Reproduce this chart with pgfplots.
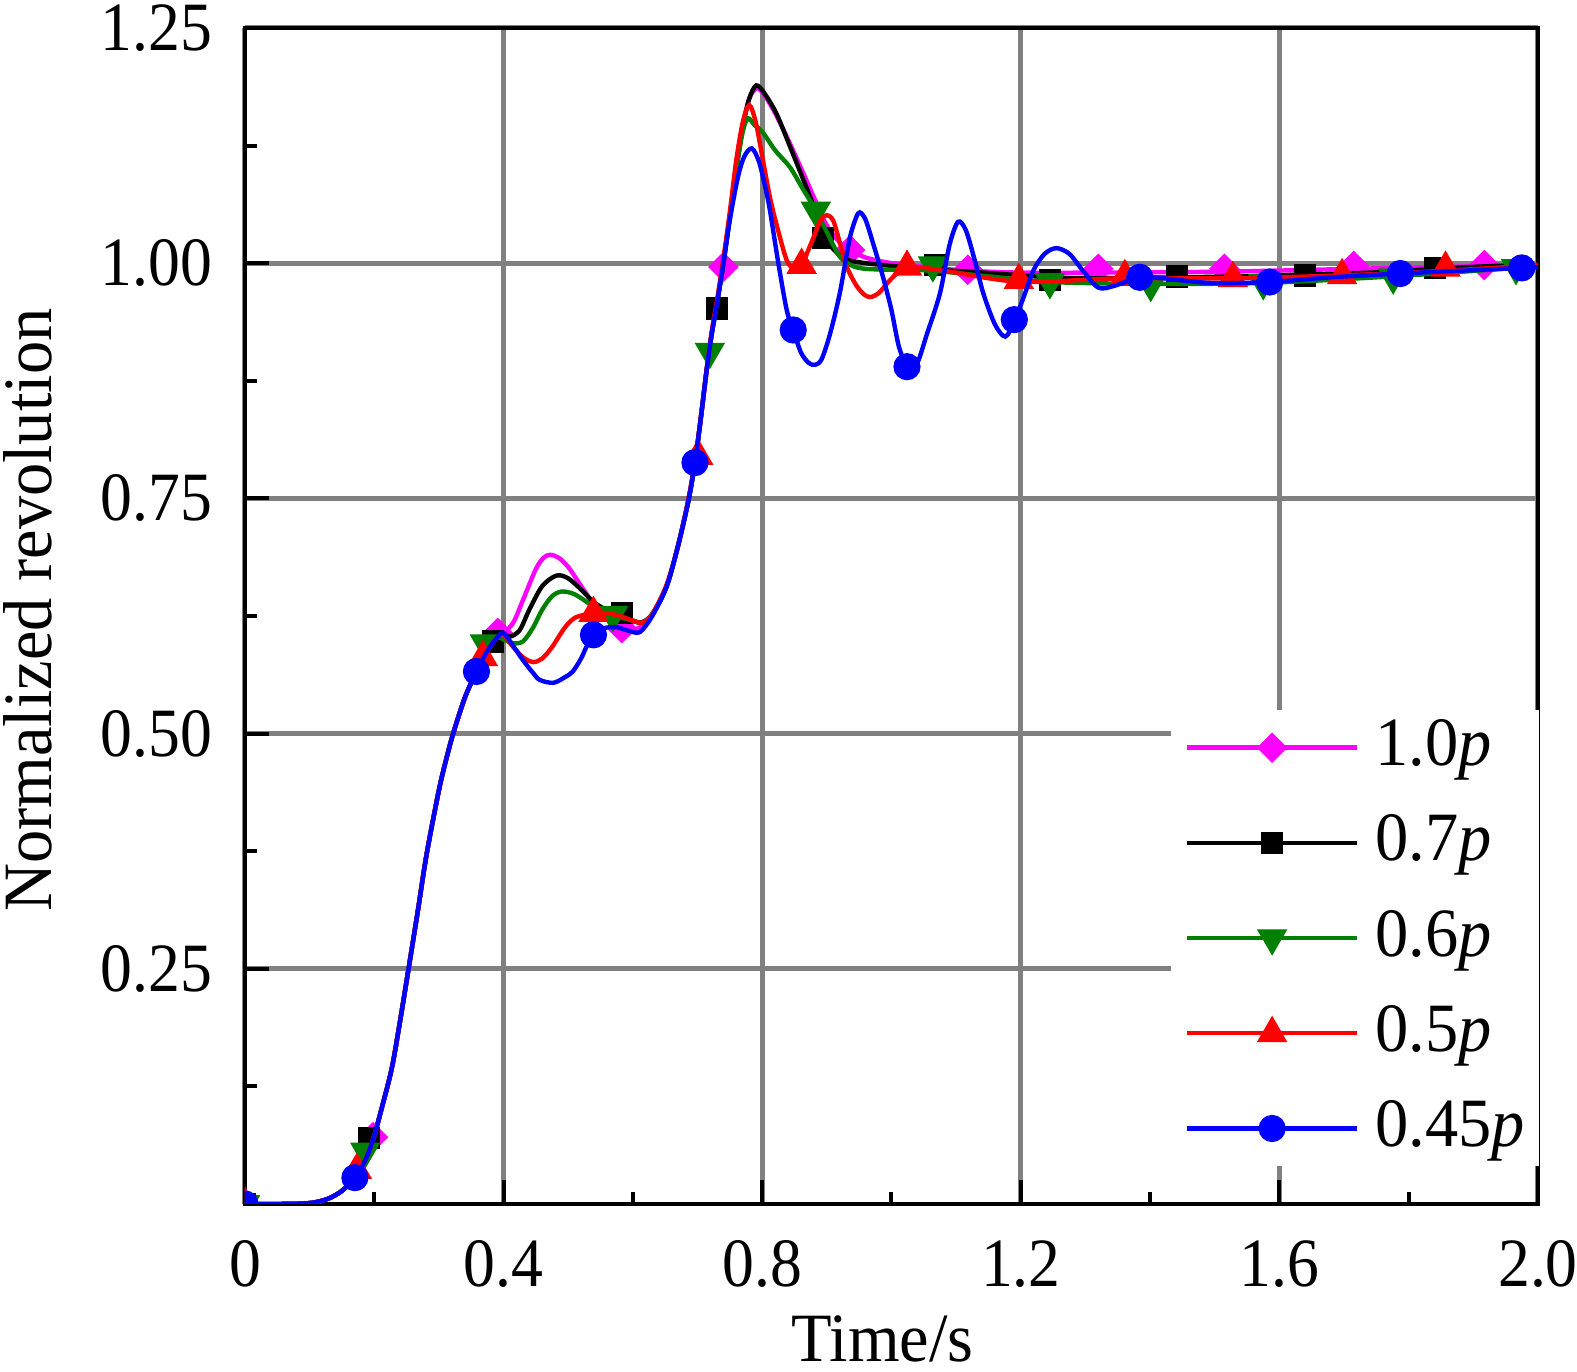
\documentclass[border=0pt]{standalone}
\usepackage{fontspec}
\setmainfont[FakeStretch=0.96]{Liberation Serif}
\newfontfamily\tickfont[FakeStretch=0.92]{Liberation Serif}
\usepackage{pgfplots}
\pgfplotsset{compat=1.18}
\definecolor{dgreen}{RGB}{0,128,0}
\definecolor{mag}{RGB}{255,0,255}
\definecolor{rred}{RGB}{255,0,0}
\definecolor{bblue}{RGB}{0,0,255}
\definecolor{gridgray}{RGB}{128,128,128}

\begin{document}
\fontsize{17.3pt}{20pt}\selectfont
\begin{tikzpicture}
\useasboundingbox (-61.25pt,-42pt) rectangle (333pt,301pt);
\begin{axis}[
  scale only axis, width=323.25pt, height=294pt,
  xmin=0, xmax=2, ymin=0, ymax=1.25,
  axis line style={line width=1pt, black},
  xtick={0,0.4,0.8,1.2,1.6,2.0}, xticklabels={0,0.4,0.8,1.2,1.6,2.0},
  minor xtick={0.2,0.6,1.0,1.4,1.8},
  ytick={0.25,0.5,0.75,1.0,1.25}, yticklabels={0.25,0.50,0.75,1.00,1.25},
  minor ytick={0.125,0.375,0.625,0.875,1.125},
  tick align=inside, tick pos=left,
  major tick length=6pt, minor tick length=3pt,
  tick style={black, line width=1pt},
  grid=major, major grid style={gridgray, line width=1.25pt},
  xticklabel style={font=\tickfont, anchor=base, inner sep=0pt, yshift=-20.75pt},
  yticklabel style={font=\tickfont, anchor=east, inner sep=0pt, xshift=-8pt},
  xlabel={Time/s}, ylabel={Normalized revolution},
  xlabel style={at={(axis description cs:0.493,-0.134)}, anchor=base, inner sep=0pt},
  ylabel style={at={(axis description cs:-0.150,0.505)}, anchor=base, inner sep=0pt},
  legend cell align=left,
  legend style={draw=none, fill=white, at={(0.7155,0.421)}, anchor=north west,
    inner xsep=3.5pt, inner ysep=1pt, row sep=6.8pt,
    nodes={inner sep=0pt, text height=13pt, text depth=4pt},
    /tikz/every odd column/.append style={column sep=4pt}},
  legend image code/.code={\draw[mark repeat=2,mark phase=2,#1] plot coordinates {(0pt,0pt) (21.25pt,0pt) (42.5pt,0pt)};},
  clip marker paths=true,
]
% ---------- 1.0p (magenta) ----------
\addplot[mag, line width=1.1pt, smooth, forget plot] table[row sep=\\] {
x y\\
0 0\\ 0.05 0\\ 0.09 0.0005\\ 0.11 0.002\\ 0.13 0.006\\ 0.15 0.014\\ 0.17 0.028\\ 0.185 0.045\\ 0.198 0.068\\ 0.21 0.098\\ 0.227 0.144\\ 0.24 0.195\\ 0.253 0.25\\ 0.267 0.31\\ 0.281 0.372\\ 0.30 0.44\\ 0.311 0.472\\ 0.322 0.50\\ 0.34 0.538\\ 0.358 0.566\\ 0.375 0.588\\ 0.39 0.602\\
0.40 0.607\\ 0.415 0.618\\ 0.43 0.642\\ 0.45 0.675\\ 0.462 0.687\\ 0.472 0.690\\ 0.485 0.687\\ 0.50 0.677\\ 0.515 0.662\\ 0.534 0.643\\ 0.56 0.622\\ 0.583 0.610\\ 0.60 0.610\\ 0.615 0.615\\
0.63 0.627\\ 0.652 0.656\\ 0.67 0.70\\ 0.686 0.748\\ 0.696 0.788\\ 0.705 0.835\\ 0.714 0.886\\ 0.722 0.925\\ 0.730 0.957\\ 0.740 1.0\\ 0.750 1.05\\
0.760 1.10\\ 0.770 1.145\\ 0.780 1.175\\ 0.792 1.186\\ 0.805 1.177\\ 0.822 1.157\\ 0.843 1.127\\ 0.864 1.095\\ 0.88 1.07\\ 0.90 1.04\\ 0.92 1.022\\ 0.936 1.014\\ 0.96 1.006\\ 1.0 1.0\\ 1.05 0.996\\ 1.118 0.992\\ 1.2 0.99\\ 1.32 0.99\\ 1.515 0.991\\ 1.715 0.994\\ 1.917 0.997\\ 2.0 0.998\\
};
\addplot[only marks, mark=square*, mark size=2.5pt, mark options={rotate=45, fill=mag, draw=mag, line width=0.4pt}, forget plot] table[row sep=\\] {
x y\\
0 0\\ 0.198 0.071\\ 0.391 0.607\\ 0.583 0.612\\ 0.740 0.996\\ 0.936 1.014\\ 1.118 0.993\\ 1.320 0.994\\ 1.515 0.994\\ 1.715 0.997\\ 1.917 0.998\\
};
% ---------- 0.7p (black) ----------
\addplot[black, line width=1.1pt, smooth, forget plot] table[row sep=\\] {
x y\\
0 0\\ 0.05 0\\ 0.09 0.0005\\ 0.11 0.002\\ 0.13 0.006\\ 0.15 0.014\\ 0.17 0.028\\ 0.185 0.045\\ 0.198 0.068\\ 0.21 0.098\\ 0.227 0.144\\ 0.24 0.195\\ 0.253 0.25\\ 0.267 0.31\\ 0.281 0.372\\ 0.30 0.44\\ 0.311 0.472\\ 0.322 0.50\\ 0.34 0.538\\ 0.358 0.566\\ 0.375 0.588\\ 0.39 0.602\\
0.40 0.605\\ 0.41 0.603\\ 0.425 0.610\\ 0.44 0.632\\ 0.46 0.657\\ 0.482 0.668\\ 0.50 0.665\\ 0.52 0.653\\ 0.539 0.640\\ 0.56 0.631\\ 0.585 0.624\\ 0.611 0.618\\
0.63 0.627\\ 0.652 0.656\\ 0.67 0.70\\ 0.686 0.748\\ 0.696 0.788\\ 0.705 0.835\\ 0.714 0.886\\ 0.722 0.925\\ 0.730 0.957\\ 0.740 1.0\\ 0.750 1.05\\
0.760 1.10\\ 0.770 1.145\\ 0.780 1.175\\ 0.791 1.189\\ 0.804 1.18\\ 0.822 1.159\\ 0.843 1.124\\ 0.864 1.088\\ 0.88 1.06\\ 0.895 1.031\\ 0.91 1.015\\ 0.93 1.004\\ 0.96 1.0\\ 0.987 0.998\\ 1.05 0.994\\ 1.142 0.99\\ 1.245 0.985\\ 1.32 0.984\\ 1.442 0.985\\ 1.54 0.986\\ 1.640 0.988\\ 1.74 0.99\\ 1.841 0.994\\ 1.93 0.997\\ 2.0 0.998\\
};
\addplot[only marks, mark=square*, mark size=2.6pt, mark options={fill=black, draw=black, line width=0.4pt}, forget plot] table[row sep=\\] {
x y\\
0 0\\ 0.192 0.070\\ 0.384 0.598\\ 0.583 0.628\\ 0.730 0.952\\ 0.894 1.027\\ 1.067 0.998\\ 1.245 0.982\\ 1.442 0.986\\ 1.640 0.987\\ 1.841 0.995\\
};
% ---------- 0.6p (green) ----------
\addplot[dgreen, line width=1.1pt, smooth, forget plot] table[row sep=\\] {
x y\\
0 0\\ 0.05 0\\ 0.09 0.0005\\ 0.11 0.002\\ 0.13 0.006\\ 0.15 0.014\\ 0.17 0.028\\ 0.185 0.045\\ 0.198 0.068\\ 0.21 0.098\\ 0.227 0.144\\ 0.24 0.195\\ 0.253 0.25\\ 0.267 0.31\\ 0.281 0.372\\ 0.30 0.44\\ 0.311 0.472\\ 0.322 0.50\\ 0.34 0.538\\ 0.358 0.566\\ 0.375 0.588\\ 0.39 0.602\\
0.40 0.600\\ 0.415 0.596\\ 0.43 0.598\\ 0.445 0.612\\ 0.46 0.632\\ 0.475 0.646\\ 0.49 0.651\\ 0.51 0.648\\ 0.54 0.635\\ 0.569 0.626\\ 0.60 0.620\\ 0.615 0.618\\
0.63 0.627\\ 0.652 0.656\\ 0.67 0.70\\ 0.686 0.748\\ 0.696 0.788\\ 0.705 0.835\\ 0.714 0.886\\ 0.722 0.925\\ 0.730 0.957\\ 0.740 1.0\\ 0.750 1.05\\
0.760 1.10\\ 0.770 1.14\\ 0.778 1.154\\ 0.788 1.147\\ 0.801 1.139\\ 0.82 1.12\\ 0.843 1.102\\ 0.862 1.08\\ 0.883 1.056\\ 0.90 1.033\\ 0.92 1.007\\ 0.94 0.997\\ 0.96 0.994\\ 1.0 0.993\\ 1.064 0.992\\ 1.15 0.986\\ 1.245 0.980\\ 1.401 0.978\\ 1.575 0.979\\ 1.776 0.986\\ 1.966 0.995\\ 2.0 0.997\\
};
\addplot[only marks, mark=triangle*, mark size=4pt, mark options={rotate=180, fill=dgreen, draw=dgreen, line width=0.4pt}, forget plot] table[row sep=\\] {
x y\\
0 0\\ 0.186 0.056\\ 0.371 0.596\\ 0.569 0.626\\ 0.719 0.906\\ 0.883 1.056\\ 1.064 0.998\\ 1.245 0.98\\ 1.401 0.977\\ 1.575 0.979\\ 1.776 0.985\\ 1.966 0.995\\
};
% ---------- 0.5p (red) ----------
\addplot[rred, line width=1.1pt, smooth, forget plot] table[row sep=\\] {
x y\\
0 0\\ 0.05 0\\ 0.09 0.0005\\ 0.11 0.002\\ 0.13 0.006\\ 0.15 0.014\\ 0.17 0.028\\ 0.185 0.045\\ 0.198 0.068\\ 0.21 0.098\\ 0.227 0.144\\ 0.24 0.195\\ 0.253 0.25\\ 0.267 0.31\\ 0.281 0.372\\ 0.30 0.44\\ 0.311 0.472\\ 0.322 0.50\\ 0.34 0.538\\ 0.358 0.566\\ 0.375 0.588\\ 0.39 0.602\\
0.40 0.604\\ 0.415 0.592\\ 0.43 0.581\\ 0.446 0.576\\ 0.46 0.580\\ 0.475 0.592\\ 0.49 0.608\\ 0.50 0.617\\ 0.513 0.624\\ 0.539 0.628\\ 0.56 0.628\\ 0.58 0.625\\ 0.60 0.620\\ 0.615 0.618\\
0.63 0.627\\ 0.652 0.658\\ 0.67 0.70\\ 0.686 0.75\\ 0.696 0.79\\ 0.705 0.835\\ 0.714 0.886\\ 0.722 0.928\\ 0.730 0.96\\ 0.740 1.005\\ 0.750 1.055\\
0.760 1.11\\ 0.770 1.15\\ 0.780 1.168\\ 0.790 1.15\\ 0.801 1.11\\ 0.812 1.07\\ 0.823 1.039\\ 0.838 1.003\\ 0.85 0.994\\ 0.861 0.998\\ 0.875 1.02\\ 0.89 1.045\\ 0.90 1.051\\ 0.91 1.045\\ 0.92 1.022\\ 0.931 0.996\\ 0.945 0.977\\ 0.957 0.967\\ 0.967 0.964\\ 0.98 0.968\\ 0.995 0.98\\ 1.01 0.99\\ 1.024 0.995\\ 1.05 0.995\\ 1.1 0.99\\ 1.15 0.984\\ 1.2 0.980\\ 1.26 0.981\\ 1.361 0.984\\ 1.528 0.984\\ 1.697 0.987\\ 1.857 0.992\\ 2.0 0.998\\
};
\addplot[only marks, mark=triangle*, mark size=4pt, mark options={fill=rred, draw=rred, line width=0.4pt}, forget plot] table[row sep=\\] {
x y\\
0 0\\ 0.173 0.036\\ 0.368 0.581\\ 0.539 0.628\\ 0.701 0.795\\ 0.861 0.998\\ 1.024 0.996\\ 1.197 0.982\\ 1.361 0.986\\ 1.528 0.984\\ 1.697 0.987\\ 1.857 0.995\\
};
% ---------- 0.45p (blue) ----------
\addplot[bblue, line width=1.1pt, smooth, forget plot] table[row sep=\\] {
x y\\
0 0\\ 0.05 0\\ 0.09 0.0005\\ 0.11 0.002\\ 0.13 0.006\\ 0.15 0.014\\ 0.17 0.028\\ 0.185 0.045\\ 0.198 0.068\\ 0.21 0.098\\ 0.227 0.144\\ 0.24 0.195\\ 0.253 0.25\\ 0.267 0.31\\ 0.281 0.372\\ 0.30 0.44\\ 0.311 0.472\\ 0.322 0.50\\ 0.34 0.538\\ 0.358 0.566\\ 0.375 0.588\\ 0.39 0.602\\
0.40 0.607\\ 0.415 0.593\\ 0.43 0.578\\ 0.445 0.565\\ 0.456 0.557\\ 0.477 0.554\\ 0.495 0.560\\ 0.507 0.566\\ 0.52 0.58\\ 0.528 0.592\\ 0.539 0.605\\ 0.555 0.612\\ 0.575 0.613\\ 0.595 0.609\\ 0.611 0.608\\
0.63 0.625\\ 0.652 0.656\\ 0.67 0.70\\ 0.686 0.748\\ 0.696 0.788\\ 0.705 0.835\\ 0.714 0.886\\ 0.722 0.925\\ 0.730 0.957\\ 0.740 1.0\\ 0.750 1.046\\
0.762 1.09\\ 0.772 1.113\\ 0.784 1.122\\ 0.795 1.108\\ 0.805 1.08\\ 0.812 1.056\\ 0.825 1.0\\ 0.838 0.950\\ 0.848 0.929\\ 0.86 0.905\\ 0.872 0.894\\ 0.882 0.892\\ 0.892 0.898\\ 0.905 0.925\\ 0.92 0.968\\ 0.935 1.025\\ 0.945 1.048\\ 0.951 1.054\\ 0.96 1.046\\ 0.972 1.02\\ 0.987 0.985\\ 1.0 0.95\\ 1.012 0.91\\ 1.027 0.887\\ 1.04 0.894\\ 1.055 0.925\\ 1.075 0.968\\ 1.09 1.02\\ 1.103 1.044\\ 1.115 1.035\\ 1.128 1.005\\ 1.142 0.968\\ 1.16 0.935\\ 1.176 0.922\\ 1.19 0.938\\ 1.205 0.965\\ 1.22 0.993\\ 1.237 1.01\\ 1.255 1.016\\ 1.275 1.01\\ 1.295 0.993\\ 1.32 0.974\\ 1.345 0.976\\ 1.384 0.985\\ 1.42 0.984\\ 1.493 0.979\\ 1.585 0.980\\ 1.68 0.985\\ 1.787 0.989\\ 1.88 0.992\\ 1.975 0.995\\ 2.0 0.996\\
};
\addplot[only marks, mark=*, mark size=3.2pt, mark options={fill=bblue, draw=bblue, line width=0.4pt}, forget plot] table[row sep=\\] {
x y\\
0 0\\ 0.17 0.028\\ 0.358 0.566\\ 0.539 0.605\\ 0.696 0.788\\ 0.848 0.929\\ 1.024 0.890\\ 1.19 0.940\\ 1.384 0.985\\ 1.585 0.980\\ 1.787 0.989\\ 1.975 0.995\\
};
% ---------- legend ----------
\addlegendimage{mag, line width=1.1pt, mark=square*, mark size=2.5pt, mark options={solid, rotate=45, fill=mag, line width=0.4pt}}
\addlegendentry{1.0\textit{p}}
\addlegendimage{black, line width=1.1pt, mark=square*, mark size=2.6pt, mark options={solid, fill=black, line width=0.4pt}}
\addlegendentry{0.7\textit{p}}
\addlegendimage{dgreen, line width=1.1pt, mark=triangle*, mark size=4pt, mark options={solid, rotate=180, fill=dgreen, line width=0.4pt}}
\addlegendentry{0.6\textit{p}}
\addlegendimage{rred, line width=1.1pt, mark=triangle*, mark size=4pt, mark options={solid, fill=rred, line width=0.4pt}}
\addlegendentry{0.5\textit{p}}
\addlegendimage{bblue, line width=1.1pt, mark=*, mark size=3.2pt, mark options={solid, fill=bblue, line width=0.4pt}}
\addlegendentry{0.45\textit{p}}
\end{axis}
\end{tikzpicture}
\end{document}
